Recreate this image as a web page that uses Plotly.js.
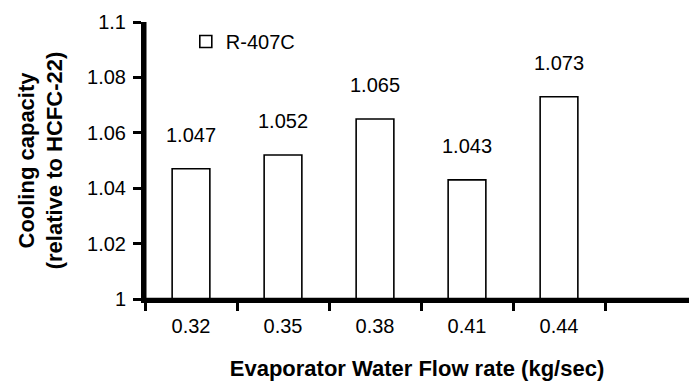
<!DOCTYPE html>
<html>
<head>
<meta charset="utf-8">
<script src="https://cdn.plot.ly/plotly-3.0.1.min.js"></script>
<style>html,body{margin:0;padding:0;background:#fff;}#chart{width:689px;height:386px;}</style>
</head>
<body>
<div id="chart"></div>
<script>
const categories = ["0.32", "0.35", "0.38", "0.41", "0.44"];
const capacity = [1.047, 1.052, 1.065, 1.043, 1.073];
const valueLabels = ["1.047", "1.052", "1.065", "1.043", "1.073"];
const seriesName = "R-407C";
const xTitle = "Evaporator Water Flow rate (kg/sec)";
const yTitle = "Cooling capacity<br>(relative to HCFC-22)";
const baseValue = 1;

const FONT = "Liberation Sans, Arial, sans-serif";

const traces = [
  {
    type: "bar",
    x: categories,
    y: capacity.map(v => v - baseValue),
    base: baseValue,
    name: seriesName,
    marker: { color: "#ffffff", line: { color: "#000000", width: 1.6 } },
    hoverinfo: "x+y"
  }
];

const annotations = categories.map((c, i) => ({
  x: i, y: capacity[i], xref: "x", yref: "y",
  text: valueLabels[i], showarrow: false,
  yanchor: "middle", yshift: 34,
  font: { family: FONT, size: 20, color: "#000" }
}));

const xr = [-0.5, 5.413];
const yr = [1, 1.1];

const layout = {
  width: 689, height: 386,
  margin: { l: 145, r: 0, t: 22, b: 87 },
  font: { family: FONT, size: 20, color: "#000" },
  bargap: 0.59,
  showlegend: true,
  legend: {
    x: 0.075, y: 1.0, xanchor: "left", yanchor: "top",
    font: { family: FONT, size: 20, color: "#000" }
  },
  xaxis: {
    type: "category", range: xr, tickson: "boundaries",
    ticks: "outside", ticklen: 8, tickwidth: 3, tickcolor: "#000",
    showline: true, linewidth: 3.5, linecolor: "#000",
    showgrid: false, zeroline: false,
    tickfont: { family: FONT, size: 20, color: "#000" },
    ticklabelstandoff: 6,
    title: { text: "<b>" + xTitle + "</b>", font: { family: FONT, size: 22, color: "#000" }, standoff: 26 }
  },
  yaxis: {
    range: yr, dtick: 0.02, tick0: 1,
    ticks: "outside", ticklen: 8, tickwidth: 3, tickcolor: "#000",
    showline: true, linewidth: 4, linecolor: "#000",
    showgrid: false, zeroline: false,
    tickfont: { family: FONT, size: 20, color: "#000" },
    ticklabelstandoff: 3,
    title: { text: "<b>" + yTitle + "</b>", font: { family: FONT, size: 22, color: "#000" }, standoff: 19 }
  },
  shapes: [
    { type: "line", xref: "paper", yref: "paper", x0: 0, x1: 0, y0: 0, y1: 1, layer: "above", line: { color: "#000", width: 3 } },
    { type: "line", xref: "paper", yref: "paper", x0: 0, x1: 1, y0: 0, y1: 0, layer: "above", line: { color: "#000", width: 2.5 } }
  ],
  annotations: annotations
};

Plotly.newPlot("chart", traces, layout, { displayModeBar: false, staticPlot: true });
</script>
</body>
</html>
